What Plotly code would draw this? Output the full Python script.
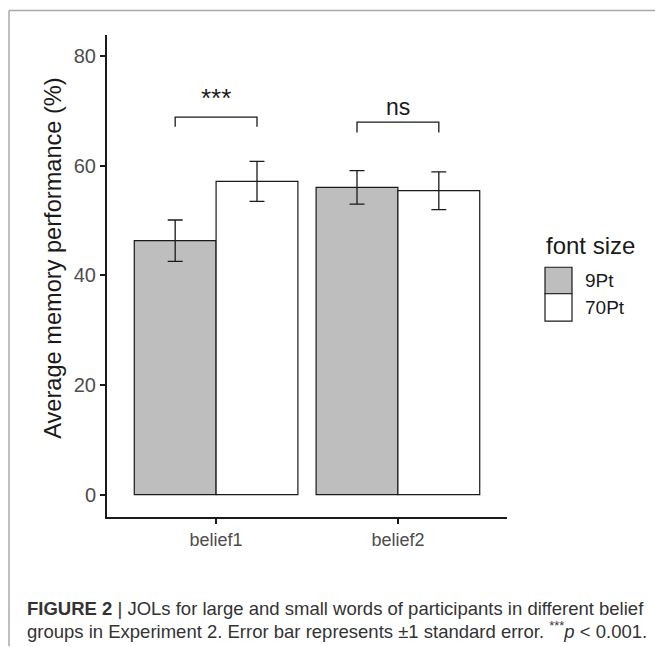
import plotly.graph_objects as go

categories = ["belief1", "belief2"]
series_names = ["9Pt", "70Pt"]
means_9pt = [46.35, 56.08]
means_70pt = [57.17, 55.47]
se_9pt = [3.77, 3.07]
se_70pt = [3.65, 3.45]
sig_labels = ["***", "ns"]
bracket_top = [68.9, 68.0]
bracket_end = [67.15, 66.1]
sig_text_y = [72.4, 70.8]
y_ticks = [0, 20, 40, 60, 80]

xpos = list(range(len(categories)))
fills = ["#bebebe", "#ffffff"]
FONT = "Liberation Sans, Arial"

fig = go.Figure()
for name, vals, se, fc in [(series_names[0], means_9pt, se_9pt, fills[0]),
                           (series_names[1], means_70pt, se_70pt, fills[1])]:
    fig.add_trace(go.Bar(
        x=xpos, y=vals, name=name,
        marker=dict(color=fc, line=dict(color="#1a1a1a", width=1.2)),
        error_y=dict(type="data", array=se, visible=True, color="#1a1a1a",
                     thickness=1.3, width=7.5),
        showlegend=False,
    ))

off = 0.225
for i, c in enumerate(xpos):
    fig.add_trace(go.Scatter(
        x=[c - off, c - off, c + off, c + off],
        y=[bracket_end[i], bracket_top[i], bracket_top[i], bracket_end[i]],
        mode="lines", line=dict(color="#1a1a1a", width=1.3),
        showlegend=False, hoverinfo="skip",
    ))
    fig.add_annotation(x=c, y=sig_text_y[i], text=sig_labels[i], showarrow=False,
                       xref="x", yref="y", yanchor="middle",
                       font=dict(family=FONT, size=26 if i == 0 else 23,
                                 color="#1a1a1a"))

# plot-area pixel geometry (for paper-coordinate helpers)
L, R, T, B = 107, 507, 35, 517.5
def px(x):
    return (x - L) / (R - L)
def py(y):
    return (B - y) / (B - T)

shapes = []
# frame lines
shapes.append(dict(type="line", xref="paper", yref="paper", x0=px(9), x1=px(655),
                   y0=py(10.5), y1=py(10.5), line=dict(color="#a8a8a8", width=1.5)))
shapes.append(dict(type="line", xref="paper", yref="paper", x0=px(9), x1=px(9),
                   y0=py(10.5), y1=py(647), line=dict(color="#a8a8a8", width=1.5)))
# legend keys
shapes.append(dict(type="rect", xref="paper", yref="paper", x0=px(545), x1=px(572),
                   y0=py(294), y1=py(267.5), fillcolor=fills[0],
                   line=dict(color="#1a1a1a", width=1.2)))
shapes.append(dict(type="rect", xref="paper", yref="paper", x0=px(545), x1=px(572),
                   y0=py(321.5), y1=py(294), fillcolor=fills[1],
                   line=dict(color="#1a1a1a", width=1.2)))

fig.add_annotation(x=px(544), y=py(246), xref="paper", yref="paper", text="font size",
                   showarrow=False, xanchor="left", yanchor="middle",
                   font=dict(family=FONT, size=24, color="#1a1a1a"))
fig.add_annotation(x=px(583), y=py(281), xref="paper", yref="paper", text=series_names[0],
                   showarrow=False, xanchor="left", yanchor="middle",
                   font=dict(family=FONT, size=19, color="#1a1a1a"))
fig.add_annotation(x=px(583), y=py(308), xref="paper", yref="paper", text=series_names[1],
                   showarrow=False, xanchor="left", yanchor="middle",
                   font=dict(family=FONT, size=19, color="#1a1a1a"))

# y-axis title
fig.add_annotation(x=px(53), y=py(259), xref="paper", yref="paper",
                   text="Average memory performance (%)", textangle=-90,
                   showarrow=False, xanchor="center", yanchor="middle",
                   font=dict(family=FONT, size=23.6, color="#1a1a1a"))

cap_font = dict(family=FONT, size=18.5, color="#333333")
fig.add_annotation(x=px(25), y=py(609), xref="paper", yref="paper",
                   text="<b>FIGURE 2</b> | JOLs for large and small words of participants in different belief",
                   showarrow=False, xanchor="left", yanchor="middle", font=cap_font)
fig.add_annotation(x=px(25), y=py(631), xref="paper", yref="paper",
                   text="groups in Experiment 2. Error bar represents \u00b11 standard error. <sup>***</sup><i>p</i> < 0.001.",
                   showarrow=False, xanchor="left", yanchor="middle", font=cap_font)

fig.update_layout(
    width=655, height=647,
    margin=dict(l=L, r=655 - R, t=T, b=647 - B, autoexpand=False),
    paper_bgcolor="white", plot_bgcolor="white",
    barmode="group", bargap=0.1, bargroupgap=0,
    shapes=shapes,
    font=dict(family=FONT),
)
fig.update_xaxes(
    range=[-0.6, 1.6], tickvals=xpos, ticktext=categories,
    showline=True, linecolor="#1a1a1a", linewidth=2, ticks="outside", ticklen=5,
    tickwidth=1.5, tickcolor="#1a1a1a", showgrid=False, zeroline=False,
    tickfont=dict(size=18, color="#4d4d4d"),
)
fig.update_yaxes(
    range=[-4.1, 83.9], tickvals=y_ticks,
    showline=True, linecolor="#1a1a1a", linewidth=2, ticks="outside", ticklen=5,
    tickwidth=1.5, tickcolor="#1a1a1a", showgrid=False, zeroline=False,
    tickfont=dict(size=20, color="#4d4d4d"),
)

fig.write_html("out.html")
